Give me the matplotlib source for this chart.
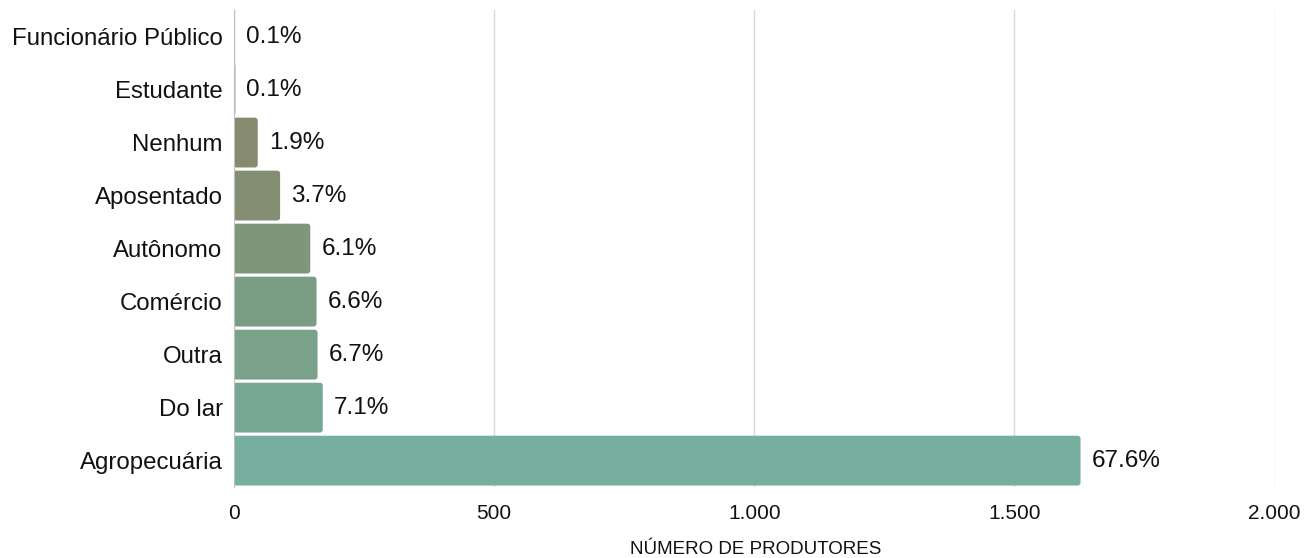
import matplotlib.pyplot as plt
from matplotlib.patches import FancyBboxPatch

categorias = ['Agropecuária', 'Do lar', 'Outra', 'Comércio', 'Autônomo',
              'Aposentado', 'Nenhum', 'Estudante', 'Funcionário Público']
produtores = [1627, 171, 161, 159, 147, 89, 46, 3, 2]
percentuais = ['67.6%', '7.1%', '6.7%', '6.6%', '6.1%', '3.7%', '1.9%', '0.1%', '0.1%']
cores = ['#76ae9f', '#78a793', '#7aa28a', '#7b9d83', '#7f967b',
         '#838e73', '#868a6e', '#898a6d', '#8a8a6c']
xticks = [0, 500, 1000, 1500, 2000]
xticklabels = ['0', '500', '1.000', '1.500', '2.000']

plt.rcParams['font.family'] = ['Liberation Sans', 'DejaVu Sans']

fig = plt.figure(figsize=(13.06, 5.58), dpi=100)
ax = fig.add_axes([0.179, 0.127, 0.797, 0.855])

bars = ax.barh(categorias, produtores, height=0.94, color=cores)
ax.set_xlim(0, 2000)
ax.set_ylim(-0.5, len(categorias) - 0.5)

# trocar as barras por caixas com cantos arredondados
aspect = (len(categorias) / 477) / (2000 / 1041)
for b in bars:
    w = b.get_width()
    r = min(5.5, w / 2)
    p = FancyBboxPatch((b.get_x(), b.get_y()), w, b.get_height(),
                       boxstyle='round,pad=0,rounding_size=%f' % r,
                       mutation_aspect=aspect, facecolor=b.get_facecolor(),
                       edgecolor='none', zorder=2)
    b.set_visible(False)
    ax.add_patch(p)

for i, (v, t) in enumerate(zip(produtores, percentuais)):
    ax.annotate(t, (v, i), xytext=(8, 0), textcoords='offset points',
                va='center', ha='left', fontsize=17.5, color='#111111')

ax.set_xticks(xticks)
ax.set_xticklabels(xticklabels)
ax.tick_params(axis='both', length=0, colors='#111111')
ax.tick_params(axis='x', pad=12, labelsize=15)
ax.tick_params(axis='y', pad=8, labelsize=17.3)
ax.grid(axis='x', color='#d9d9d9', linewidth=1, zorder=0)
ax.set_axisbelow(True)
for s in ['top', 'right', 'bottom']:
    ax.spines[s].set_visible(False)
ax.spines['left'].set_color('#bfbfbf')
ax.spines['left'].set_zorder(3)

fig.text(0.579, 0.016, 'NÚMERO DE PRODUTORES', ha='center', va='center',
         fontsize=13.5, color='#111111')

fig.savefig('out.png', dpi=100)
